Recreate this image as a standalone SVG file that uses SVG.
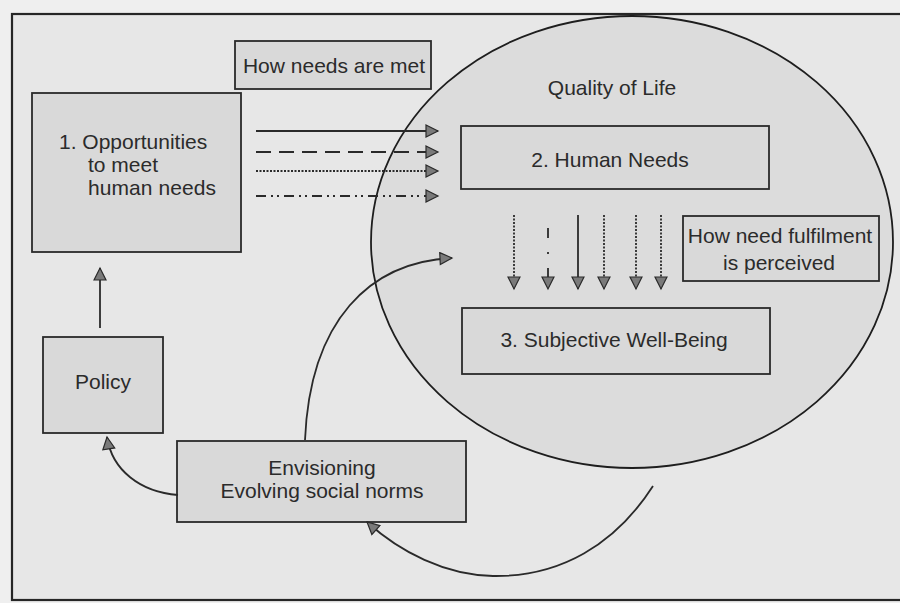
<svg xmlns="http://www.w3.org/2000/svg" width="900" height="603" viewBox="0 0 900 603">
<style>
  .box { fill: #d9d9d9; stroke: #2a2a2a; stroke-width: 1.8; }
  .txt { font-family: "Liberation Sans", Arial, sans-serif; font-size: 21px; fill: #2b2b2b; }
  .mid { text-anchor: middle; }
  .ln { fill: none; stroke: #2a2a2a; stroke-width: 1.8; }
  .arr { marker-end: url(#ah); }
</style>
<defs>
  <marker id="ah" markerUnits="userSpaceOnUse" markerWidth="16" markerHeight="16" refX="13" refY="7" orient="auto">
    <path d="M1,1 L13,7 L1,13 Z" fill="#7a7a7a" stroke="#2a2a2a" stroke-width="1.2"/>
  </marker>
</defs>
<rect x="0" y="0" width="900" height="603" fill="#efefef"/>
<rect x="12" y="14" width="900" height="586" fill="#e7e7e7" stroke="#262626" stroke-width="2.2"/>

<g id="quality-of-life">
  <ellipse cx="632" cy="242" rx="261" ry="226" fill="#dcdcdc" stroke="#1e1e1e" stroke-width="1.8"/>
  <text class="txt mid" x="612" y="95">Quality of Life</text>
</g>

<g id="how-needs-met">
  <rect class="box" x="235" y="41" width="196" height="48"/>
  <text class="txt mid" x="334" y="73">How needs are met</text>
</g>

<g id="opportunities">
  <rect class="box" x="32" y="93" width="209" height="159"/>
  <text class="txt" x="59" y="149">1. Opportunities</text>
  <text class="txt" x="88" y="172">to meet</text>
  <text class="txt" x="88" y="195" textLength="128">human needs</text>
</g>

<g id="human-needs">
  <rect class="box" x="461" y="126" width="308" height="63"/>
  <text class="txt mid" x="610" y="167">2. Human Needs</text>
</g>

<g id="perceived">
  <rect class="box" x="683" y="216" width="196" height="65"/>
  <text class="txt mid" x="780" y="243">How need fulfilment</text>
  <text class="txt mid" x="779" y="270">is perceived</text>
</g>

<g id="well-being">
  <rect class="box" x="462" y="308" width="308" height="66"/>
  <text class="txt mid" x="614" y="347">3. Subjective Well-Being</text>
</g>

<g id="policy">
  <rect class="box" x="43" y="337" width="120" height="96"/>
  <text class="txt mid" x="103" y="389">Policy</text>
</g>

<g id="envisioning">
  <rect class="box" x="177" y="441" width="289" height="81"/>
  <text class="txt mid" x="322" y="475">Envisioning</text>
  <text class="txt mid" x="322" y="498">Evolving social norms</text>
</g>

<g id="connectors">
  <!-- how needs are met -->
  <line class="ln arr" x1="256" y1="131" x2="438" y2="131"/>
  <line class="ln arr" x1="256" y1="152" x2="438" y2="152" stroke-dasharray="15 8"/>
  <line class="ln arr" x1="256" y1="171" x2="438" y2="171" stroke-dasharray="2 1.5"/>
  <line class="ln arr" x1="256" y1="196" x2="438" y2="196" stroke-dasharray="10 5 2 4 2 5"/>
  <!-- how fulfilment is perceived -->
  <line class="ln arr" x1="514" y1="215" x2="514" y2="289" stroke-dasharray="2 1.5"/>
  <line class="ln arr" x1="548" y1="228" x2="548" y2="289" stroke-dasharray="10 14 2 14"/>
  <line class="ln arr" x1="578" y1="215" x2="578" y2="289"/>
  <line class="ln arr" x1="604" y1="215" x2="604" y2="289" stroke-dasharray="2 1.5"/>
  <line class="ln arr" x1="636" y1="215" x2="636" y2="289" stroke-dasharray="2 1.5"/>
  <line class="ln arr" x1="661" y1="215" x2="661" y2="289" stroke-dasharray="2 1.5"/>
  <!-- policy to opportunities -->
  <line class="ln arr" x1="100" y1="328" x2="100" y2="268"/>
  <!-- envisioning to policy -->
  <path class="ln arr" d="M178,495 C140,492 112,470 107,437"/>
  <!-- envisioning into quality of life -->
  <path class="ln arr" d="M305,440 C310,320 370,262 452,258"/>
  <!-- quality of life back to envisioning -->
  <path class="ln arr" d="M653,486 C615,545 560,577 493,576 C445,575 400,552 367,522"/>
</g>
</svg>
